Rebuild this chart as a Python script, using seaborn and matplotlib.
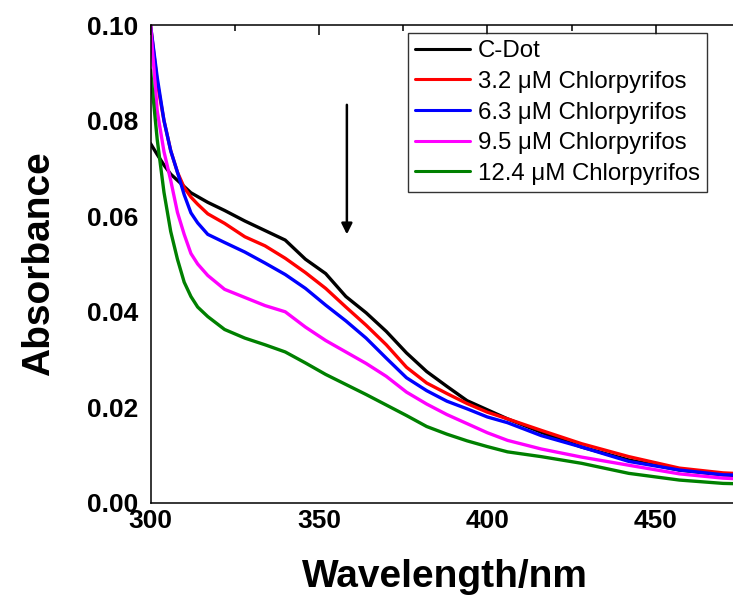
import matplotlib
matplotlib.use("Agg")
import matplotlib.pyplot as plt
from matplotlib.ticker import MultipleLocator, FormatStrFormatter
from matplotlib.lines import Line2D
import seaborn as sns
import pandas as pd

wavelength = [300, 302, 304, 306, 308, 310, 312, 314, 317, 322, 328, 334, 340, 346,
              352, 358, 364, 370, 376, 382, 388, 394, 400, 406, 416, 428, 442, 457, 470, 476]

cdot = [0.0752, 0.0729, 0.0707, 0.0688, 0.0675, 0.0662, 0.0649, 0.0641, 0.0629, 0.0612,
        0.0590, 0.0570, 0.0550, 0.0510, 0.0480, 0.0432, 0.0398, 0.0359, 0.0314, 0.0275,
        0.0244, 0.0214, 0.0195, 0.0176, 0.0148, 0.0117, 0.0090, 0.0069, 0.0059, 0.0057]
c32 = [0.1000, 0.0880, 0.0800, 0.0737, 0.0692, 0.0660, 0.0640, 0.0625, 0.0605, 0.0585,
       0.0557, 0.0538, 0.0512, 0.0482, 0.0449, 0.0410, 0.0372, 0.0331, 0.0284, 0.0251,
       0.0229, 0.0208, 0.0190, 0.0176, 0.0152, 0.0124, 0.0097, 0.0073, 0.0063, 0.0061]
c63 = [0.1000, 0.0890, 0.0800, 0.0737, 0.0692, 0.0645, 0.0607, 0.0586, 0.0562, 0.0545,
       0.0525, 0.0502, 0.0478, 0.0449, 0.0414, 0.0381, 0.0345, 0.0303, 0.0262, 0.0235,
       0.0213, 0.0197, 0.0180, 0.0168, 0.0141, 0.0117, 0.0087, 0.0069, 0.0059, 0.0058]
c95 = [0.1000, 0.0820, 0.0735, 0.0675, 0.0608, 0.0562, 0.0522, 0.0500, 0.0476, 0.0447,
       0.0430, 0.0413, 0.0400, 0.0368, 0.0340, 0.0316, 0.0292, 0.0265, 0.0232, 0.0207,
       0.0185, 0.0166, 0.0147, 0.0131, 0.0113, 0.0096, 0.0079, 0.0061, 0.0052, 0.0050]
c124 = [0.0906, 0.0760, 0.0650, 0.0568, 0.0510, 0.0462, 0.0432, 0.0410, 0.0390, 0.0363,
        0.0345, 0.0331, 0.0316, 0.0293, 0.0269, 0.0248, 0.0227, 0.0205, 0.0183, 0.0160,
        0.0144, 0.0130, 0.0118, 0.0107, 0.0097, 0.0083, 0.0062, 0.0048, 0.0041, 0.0040]

labels = ["C-Dot", "3.2 \u03bcM Chlorpyrifos", "6.3 \u03bcM Chlorpyrifos",
          "9.5 \u03bcM Chlorpyrifos", "12.4 \u03bcM Chlorpyrifos"]
colors = ["#000000", "#ff0000", "#0000ff", "#ff00ff", "#008000"]
series = [cdot, c32, c63, c95, c124]

rows = []
for lab, vals in zip(labels, series):
    for w, v in zip(wavelength, vals):
        rows.append({"Wavelength": w, "Absorbance": v, "Sample": lab})
df = pd.DataFrame(rows)

sns.set_style("white")
plt.rcParams["font.family"] = ["Liberation Sans", "DejaVu Sans"]
plt.rcParams["text.color"] = "black"
plt.rcParams["axes.labelcolor"] = "black"
plt.rcParams["xtick.color"] = "black"
plt.rcParams["ytick.color"] = "black"

fig = plt.figure(figsize=(7.33, 6.05), dpi=100)
W, H = 733, 605
ax = fig.add_axes([150.5 / W, (H - 503) / H, (745 - 150.5) / W, (503 - 25) / H])

sns.lineplot(data=df, x="Wavelength", y="Absorbance", hue="Sample",
             hue_order=labels, palette=dict(zip(labels, colors)),
             linewidth=2.4, ax=ax, legend=False, sort=False, estimator=None)

ax.set_xlim(300, 476.5)
ax.set_ylim(0, 0.10)
ax.xaxis.set_major_locator(MultipleLocator(50))
ax.xaxis.set_minor_locator(MultipleLocator(25))
ax.yaxis.set_major_locator(MultipleLocator(0.02))
ax.yaxis.set_minor_locator(MultipleLocator(0.01))
ax.yaxis.set_major_formatter(FormatStrFormatter("%.2f"))

for s in ax.spines.values():
    s.set_linewidth(1.1)
    s.set_color("black")

ax.tick_params(axis="both", which="both", direction="in", top=True, right=True,
               color="black", labelcolor="black", width=1.1)
ax.tick_params(axis="x", which="major", length=7, pad=4, labelsize=19)
ax.tick_params(axis="x", which="minor", length=4)
ax.tick_params(axis="y", which="major", length=7, pad=9, labelsize=19)
ax.tick_params(axis="y", which="minor", length=5)
for t in ax.get_xticklabels() + ax.get_yticklabels():
    t.set_fontweight("bold")

ax.set_xlabel("Wavelength/nm", fontsize=28, fontweight="bold", color="black")
ax.set_ylabel("Absorbance", fontsize=28, fontweight="bold", color="black", labelpad=21)
ax.xaxis.set_label_coords((445 - 150.5) / (745 - 150.5), -0.117)

# arrow
ax.annotate("", xy=(358.3, 0.0562), xytext=(358.3, 0.0833),
            arrowprops=dict(arrowstyle="-|>", color="black", lw=1.8,
                            mutation_scale=16, shrinkA=0, shrinkB=0))

handles = [Line2D([], [], color=c, lw=2.2) for c in colors]
leg = fig.legend(handles, labels, loc="upper left",
                 bbox_to_anchor=(408 / W, 1 - 33 / H), borderaxespad=0,
                 fontsize=17.3, frameon=True, fancybox=False, handlelength=2.3,
                 handletextpad=0.3, labelspacing=0.36, borderpad=0.3)
leg.get_frame().set_edgecolor("black")
leg.get_frame().set_linewidth(1.0)
for txt in leg.get_texts():
    txt.set_color("black")

fig.savefig("out.png", dpi=100)
